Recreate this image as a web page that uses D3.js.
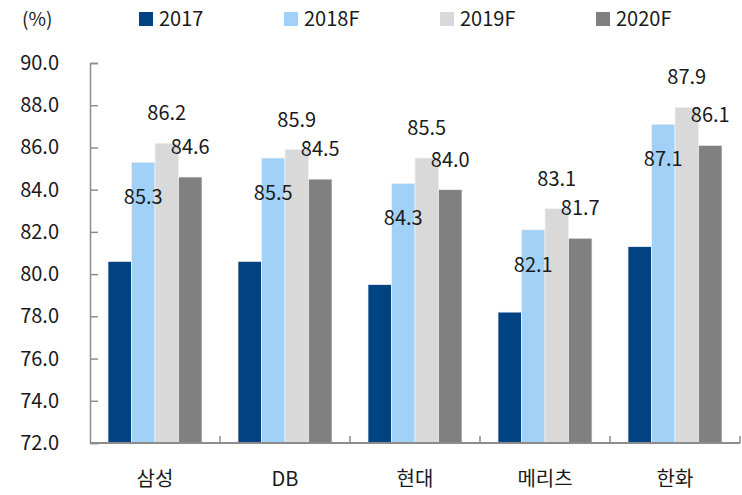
<!DOCTYPE html>
<html>
<head>
<meta charset="utf-8">
<script src="https://cdn.jsdelivr.net/npm/d3@7"></script>
<style>
  body { margin: 0; background: #fff; }
  svg text { font-family: "Noto Sans CJK KR", "Noto Sans", sans-serif; fill: #1a1a1a; }
</style>
</head>
<body>
<div id="chart"></div>
<script>
// companies and series
const companies = ["삼성", "DB", "현대", "메리츠", "한화"];
const seriesNames = ["2017", "2018F", "2019F", "2020F"];
const v2017 = [80.6, 80.6, 79.5, 78.2, 81.3];
const v2018 = [85.3, 85.5, 84.3, 82.1, 87.1];
const v2019 = [86.2, 85.9, 85.5, 83.1, 87.9];
const v2020 = [84.6, 84.5, 84.0, 81.7, 86.1];
const yTicks = [72, 74, 76, 78, 80, 82, 84, 86, 88, 90];

const colors = ["#004282", "#a2d1f7", "#d9d9d9", "#808080"];
const allValues = [v2017, v2018, v2019, v2020];

const W = 742, H = 495;
const margin = {top: 63, right: 2, bottom: 52, left: 90};
const width = W - margin.left - margin.right;
const height = H - margin.top - margin.bottom;

const svg = d3.select("#chart").append("svg")
    .attr("width", W)
    .attr("height", H);

const g = svg.append("g")
    .attr("transform", "translate(" + margin.left + "," + margin.top + ")");

const x0 = d3.scaleBand()
    .domain(companies)
    .range([0, width])
    .paddingInner(0.277)
    .paddingOuter(0.1385);

const x1 = d3.scaleBand()
    .domain(seriesNames)
    .range([0, x0.bandwidth()]);

const y = d3.scaleLinear()
    .domain([72, 90])
    .range([height, 0]);

// y axis: ticks point inward
const yAxis = g.append("g")
    .call(d3.axisRight(y).tickValues(yTicks).tickSize(8).tickFormat(""));
yAxis.select(".domain").attr("stroke", "#8c8c8c").attr("stroke-width", 1.5);
yAxis.selectAll(".tick line").attr("stroke", "#8c8c8c").attr("stroke-width", 1.5);

g.selectAll(".ylab")
    .data(yTicks)
    .enter().append("text")
    .attr("class", "ylab")
    .attr("x", -31)
    .attr("y", d => y(d))
    .attr("dy", "0.35em")
    .attr("text-anchor", "end")
    .style("font-size", "20px")
    .text(d => d.toFixed(1));

// bars
const groups = g.selectAll(".grp")
    .data(companies)
    .enter().append("g")
    .attr("class", "grp")
    .attr("transform", d => "translate(" + x0(d) + ",0)");

groups.selectAll("rect")
    .data((d, i) => seriesNames.map((s, j) => ({s: s, j: j, v: allValues[j][i]})))
    .enter().append("rect")
    .attr("x", d => x1(d.s))
    .attr("width", x1.bandwidth())
    .attr("y", d => y(d.v))
    .attr("height", d => height - y(d.v))
    .attr("fill", d => colors[d.j])
    .attr("stroke", "#f2f2f2")
    .attr("stroke-width", 0.7);

// value labels (2018F inside, 2019F/2020F above)
groups.selectAll(".vlab")
    .data((d, i) => seriesNames.map((s, j) => ({s: s, j: j, v: allValues[j][i]})).filter(d => d.j > 0))
    .enter().append("text")
    .attr("class", "vlab")
    .attr("x", d => x1(d.s) + x1.bandwidth() / 2)
    .attr("y", d => d.j === 1 ? y(d.v) + 35 : y(d.v) - 30)
    .attr("dy", "0.35em")
    .attr("text-anchor", "middle")
    .style("font-size", "20px")
    .text(d => d.v.toFixed(1));

// x axis with boundary ticks pointing up
const xAxisG = g.append("g")
    .attr("transform", "translate(0," + height + ")");
xAxisG.append("line")
    .attr("x1", 0).attr("x2", width)
    .attr("stroke", "#8c8c8c").attr("stroke-width", 2);
const step = x0.step();
xAxisG.selectAll(".bt")
    .data(d3.range(1, companies.length + 1))
    .enter().append("line")
    .attr("x1", d => d * step).attr("x2", d => d * step)
    .attr("y1", 0).attr("y2", -7)
    .attr("stroke", "#8c8c8c").attr("stroke-width", 1.5);

xAxisG.selectAll(".xlab")
    .data(companies)
    .enter().append("text")
    .attr("class", "xlab")
    .attr("x", d => x0(d) + x0.bandwidth() / 2)
    .attr("y", 36)
    .attr("dy", "0.35em")
    .attr("text-anchor", "middle")
    .style("font-size", "20px")
    .text(d => d);

// unit
svg.append("text")
    .attr("x", 22)
    .attr("y", 19)
    .attr("dy", "0.35em")
    .style("font-size", "19px")
    .text("(%)");

// legend
const legendX = [139, 284, 440, 596];
const legend = svg.selectAll(".leg")
    .data(seriesNames)
    .enter().append("g")
    .attr("class", "leg")
    .attr("transform", (d, i) => "translate(" + legendX[i] + ",12)");
legend.append("rect")
    .attr("width", 14).attr("height", 14)
    .attr("fill", (d, i) => colors[i]);
legend.append("text")
    .attr("x", 20)
    .attr("y", 7)
    .attr("dy", "0.35em")
    .style("font-size", "20px")
    .text(d => d);
</script>
</body>
</html>
